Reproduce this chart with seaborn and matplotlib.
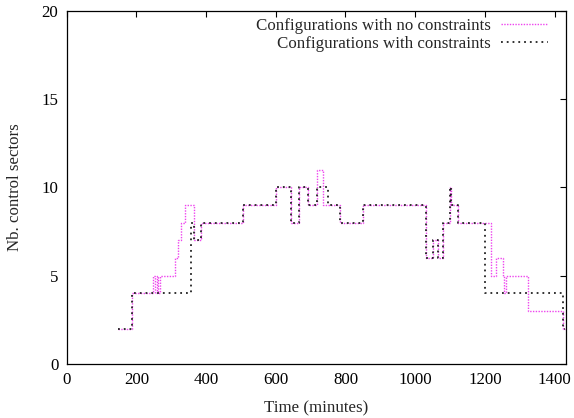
import pandas as pd
import matplotlib
matplotlib.use("Agg")
import matplotlib.pyplot as plt
import seaborn as sns

# ----------------------------
# DATA (step values, time in minutes)
# ----------------------------
t_free = [148, 186, 248, 254, 258, 263, 267, 311, 318, 328, 339, 366, 385, 507,
          602, 645, 666, 693, 717, 736, 784, 851, 1031, 1052, 1066, 1079, 1100,
          1102, 1123, 1219, 1231, 1251, 1255, 1260, 1324, 1425, 1430]
n_free = [2, 4, 5, 4, 5, 4, 5, 6, 7, 8, 9, 7, 8, 9,
          10, 8, 10, 9, 11, 9, 8, 9, 6, 7, 6, 8, 10,
          9, 8, 5, 6, 5, 4, 5, 3, 2, 2]

t_cons = [148, 186, 358, 366, 385, 507, 602, 645, 666, 693, 717, 750, 784, 851,
          1031, 1052, 1066, 1079, 1100, 1102, 1123, 1200, 1425, 1430]
n_cons = [2, 4, 8, 7, 8, 9, 10, 8, 10, 9, 10, 9, 8, 9,
          6, 7, 6, 8, 10, 9, 8, 4, 2, 2]

x_ticks = [0, 200, 400, 600, 800, 1000, 1200, 1400]
y_ticks = [0, 5, 10, 15, 20]

free = pd.DataFrame({"time": t_free, "sectors": n_free})
cons = pd.DataFrame({"time": t_cons, "sectors": n_cons})

# ----------------------------
# STYLE
# ----------------------------
sns.set_style("white")
plt.rcParams['font.family'] = ['Liberation Serif', 'DejaVu Serif']
plt.rcParams['font.size'] = 12.2
plt.rcParams['xtick.direction'] = 'in'
plt.rcParams['ytick.direction'] = 'in'

fig = plt.figure(figsize=(5.74, 4.18), dpi=100)
ax = fig.add_axes([0.1162, 0.1292, 0.8693, 0.8452])

sns.lineplot(data=free, x="time", y="sectors", ax=ax, drawstyle="steps-post",
             color="#ee44ee", linewidth=1.0, linestyle=(0, (1, 1)),
             label="Configurations with no constraints")
sns.lineplot(data=cons, x="time", y="sectors", ax=ax, drawstyle="steps-post",
             color="#222222", linewidth=1.3, linestyle=(0, (1, 2.2)),
             label="Configurations with constraints")

ax.set_xlim(0, 1432)
ax.set_ylim(0, 20)
ax.set_xticks(x_ticks)
ax.set_yticks(y_ticks)
ax.tick_params(top=True, right=True, length=4, width=0.8, colors="black",
               labelsize=12.2, pad=6)
for s in ax.spines.values():
    s.set_color("black")
    s.set_linewidth(0.9)

ax.set_xlabel("Time (minutes)", fontsize=12.2, labelpad=8.5)
ax.set_ylabel("Nb. control sectors", fontsize=12.2, labelpad=13)

leg = ax.legend(loc="upper right", bbox_to_anchor=(0.9646, 0.979),
                frameon=False, markerfirst=False, borderpad=0, borderaxespad=0,
                handlelength=2.78, handletextpad=0.6,
                labelspacing=0.1, fontsize=12.2)
for txt in leg.get_texts():
    txt.set_ha("right")
leg._legend_box.align = "right"

plt.savefig("out.png", dpi=100)
